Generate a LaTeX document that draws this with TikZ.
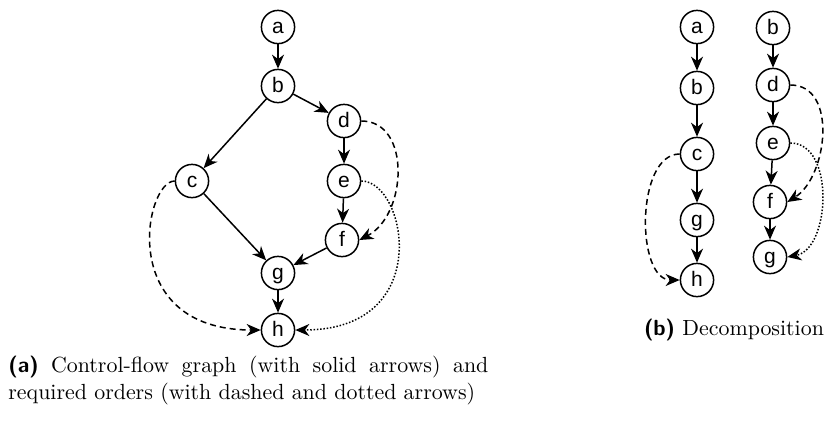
\documentclass[tikz,border=0pt]{standalone}
\usepackage{fontspec}
\usepackage{tikz}
\usetikzlibrary{arrows.meta}
\newfontfamily\nodefont{Liberation Sans}

\tikzset{
  vertex/.style={circle, draw, line width=0.75pt, minimum size=16.6pt, inner sep=0pt,
    text height=6pt, text depth=0pt, font=\nodefont\fontsize{10.5}{12}\selectfont},
  flow/.style={-{Stealth[length=7pt,width=6pt,inset=2.2pt]}, line width=0.75pt},
  needdash/.style={flow, dash pattern=on 3pt off 2pt},
  needdot/.style={flow, dash pattern=on 0.75pt off 0.9pt},
  caption/.style={inner sep=0pt, font=\fontsize{10.95}{13.6}\selectfont}
}

\begin{document}
\begin{tikzpicture}[x=0.5pt, y=-0.5pt]
    \useasboundingbox (0,0) rectangle (829,430);

    % Control-flow graph
    \node[vertex] (a) at (278,27) {a};
    \node[vertex] (b) at (278,86) {b};
    \node[vertex] (d) at (344,121) {d};
    \node[vertex] (c) at (192,181) {c};
    \node[vertex] (e) at (344,181) {e};
    \node[vertex] (f) at (342,240) {f};
    \node[vertex] (g) at (278,273) {g};
    \node[vertex] (h) at (278,330) {h};

    \draw[flow] (a) -- (b);
    \draw[flow] (b) -- (c);
    \draw[flow] (b) -- (d);
    \draw[flow] (d) -- (e);
    \draw[flow] (e) -- (f);
    \draw[flow] (c) -- (g);
    \draw[flow] (f) -- (g);
    \draw[flow] (g) -- (h);

    % Required orders
    \draw[needdash] (d.east) .. controls +(50,0) and +(48,-25) .. (f.east);
    \draw[needdot] (e.east) .. controls +(45,0) and +(140,0) .. (h.east);
    \draw[needdash] (c.west) .. controls +(-30,0) and +(-145,0) .. (h.west);

    % Decomposition
    \node[vertex] (la) at (697,27) {a};
    \node[vertex] (lb) at (697,88) {b};
    \node[vertex] (lc) at (697,154) {c};
    \node[vertex] (lg) at (697,220) {g};
    \node[vertex] (lh) at (697,280) {h};

    \node[vertex] (rb) at (773,28) {b};
    \node[vertex] (rd) at (773,85) {d};
    \node[vertex] (re) at (773,143) {e};
    \node[vertex] (rf) at (770,202) {f};
    \node[vertex] (rg) at (770,257) {g};

    \draw[flow] (la) -- (lb);
    \draw[flow] (lb) -- (lc);
    \draw[flow] (lc) -- (lg);
    \draw[flow] (lg) -- (lh);
    \draw[flow] (rb) -- (rd);
    \draw[flow] (rd) -- (re);
    \draw[flow] (re) -- (rf);
    \draw[flow] (rf) -- (rg);

    \draw[needdash] (lc.west) .. controls +(-44,0) and +(-44,0) .. (lh.west);
    \draw[needdash] (rd.east) .. controls +(48,0) and +(40,-25) .. (rf.east);
    \draw[needdot] (re.east) .. controls +(45,0) and +(43,-8) .. (rg.east);

    % Captions
    \node[caption, anchor=base west, text width=240pt, align=justify] (capa) at (8,372)
      {\textsf{\textbf{(a)}} Control-flow graph (with solid arrows) and\linebreak
       required orders (with dashed and dotted arrows)};
    \node[caption, anchor=base] (capb) at (734,335) {\textsf{\textbf{(b)}} Decomposition};
\end{tikzpicture}
\end{document}
